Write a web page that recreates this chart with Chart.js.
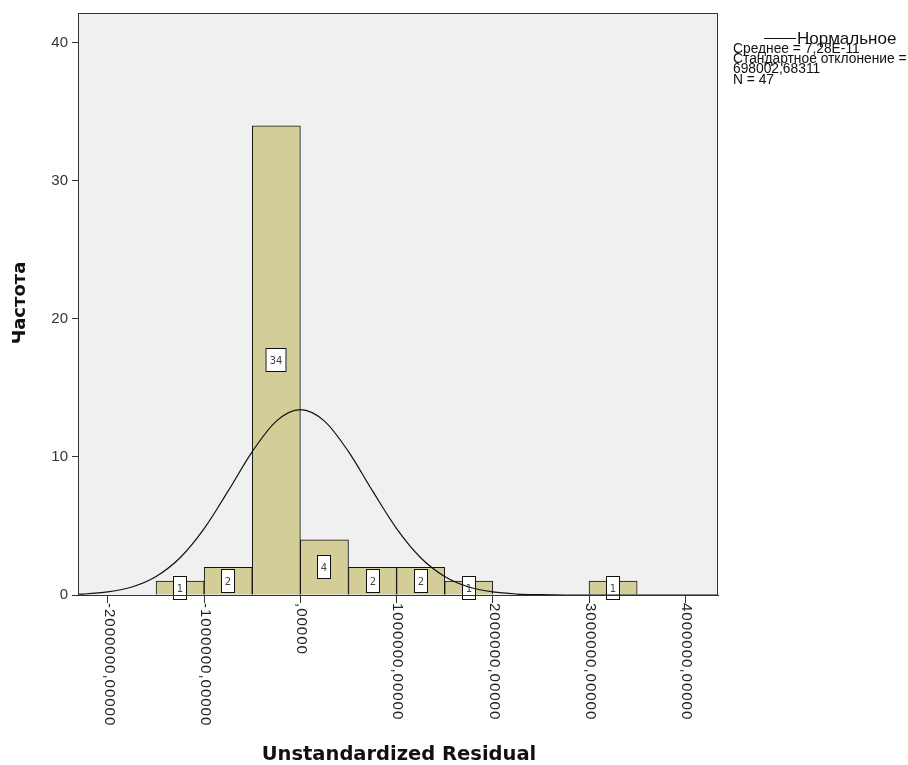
<!DOCTYPE html>
<html>
<head>
<meta charset="utf-8">
<script src="https://cdn.jsdelivr.net/npm/chart.js@4.4.1/dist/chart.umd.min.js"></script>
<style>
  body { margin: 0; background: #fff; }
  canvas { display: block; }
</style>
</head>
<body>
<canvas id="myChart" width="908" height="765"></canvas>
<script>
// DATA

var binCenters = [-1250000, -750000, -250000, 250000, 750000, 1250000, 1750000, 3250000];
var binCounts = [1, 2, 34, 4, 2, 2, 1, 1];

var curveX = [-2300000, -2250000, -2000000, -1750000, -1500000, -1250000, -1000000, -750000, -500000, -250000,
              0, 250000, 500000, 750000, 1000000, 1250000, 1500000, 1750000, 2000000, 2250000,
              2500000, 2750000, 3000000, 3500000, 4000000, 4340000];
var curveY = [0.06, 0.07, 0.22, 0.58, 1.34, 2.70, 4.81, 7.54, 10.39, 12.60,
              13.43, 12.60, 10.39, 7.54, 4.81, 2.70, 1.34, 0.58, 0.22, 0.07,
              0.02, 0, 0, 0, 0, 0];

var xTicks = [-2000000, -1000000, 0, 1000000, 2000000, 3000000, 4000000];
var xTickLabels = ['-2000000,00000', '-1000000,00000', ',00000', '1000000,00000',
                   '2000000,00000', '3000000,00000', '4000000,00000'];
var yTicks = [0, 10, 20, 30, 40];

var legendLines = ['Среднее = 7,28E-11', 'Стандартное отклонение =', '698002,68311', 'N = 47'];

var FONT = '"Liberation Sans", Arial, sans-serif';
var TITLE_FONT = '"DejaVu Sans", Verdana, sans-serif';

// PLUGINS

var plotBg = {
    id: 'plotBg',
    beforeDraw: function (chart) {
        var a = chart.chartArea, ctx = chart.ctx;
        ctx.save();
        ctx.fillStyle = '#F0F0F0';
        ctx.fillRect(a.left, a.top, a.right - a.left, a.bottom - a.top);
        ctx.restore();
    },
    afterDatasetDraw: function (chart, args) {
        if (args.index !== 0) return;
        // count boxes in the middle of each bar
        var ctx = chart.ctx, xs = chart.scales.x, ys = chart.scales.y;
        ctx.save();
        ctx.font = '10px ' + TITLE_FONT;
        ctx.textAlign = 'center';
        ctx.textBaseline = 'middle';
        binCenters.forEach(function (c, i) {
            var px = Math.round(xs.getPixelForValue(c));
            var py = Math.round(ys.getPixelForValue(binCounts[i] / 2));
            var txt = String(binCounts[i]);
            var w = Math.round(ctx.measureText(txt).width) + 8;
            var h = 24;
            ctx.fillStyle = '#fff';
            ctx.fillRect(px - w / 2, py - h / 2, w, h);
            ctx.strokeStyle = '#111';
            ctx.lineWidth = 1;
            ctx.strokeRect(px - w / 2 + 0.5, py - h / 2 + 0.5, w - 1, h - 1);
            ctx.fillStyle = '#444';
            ctx.fillText(txt, px, py + 1);
        });
        ctx.restore();
    },
    afterDraw: function (chart) {
        var a = chart.chartArea, ctx = chart.ctx, xs = chart.scales.x;
        ctx.save();
        // frame
        ctx.strokeStyle = '#333';
        ctx.lineWidth = 1;
        ctx.strokeRect(a.left + 0.5, a.top + 0.5, a.right - a.left - 1, a.bottom - a.top);

        // x tick labels, turned clockwise
        ctx.fillStyle = '#222';
        ctx.font = '15px ' + FONT;
        if ('letterSpacing' in ctx) ctx.letterSpacing = '1px';
        ctx.textAlign = 'left';
        ctx.textBaseline = 'middle';
        xTicks.forEach(function (v, i) {
            var px = xs.getPixelForValue(v);
            ctx.save();
            ctx.translate(px + 1, a.bottom + 8);
            ctx.rotate(Math.PI / 2);
            ctx.fillText(xTickLabels[i], 0, 0);
            ctx.restore();
        });
        if ('letterSpacing' in ctx) ctx.letterSpacing = '0px';

        // axis titles
        ctx.fillStyle = '#111';
        ctx.font = 'bold 19.5px ' + TITLE_FONT;
        ctx.textAlign = 'center';
        ctx.fillText('Unstandardized Residual', 399, 755);
        ctx.save();
        ctx.translate(20, 303);
        ctx.rotate(-Math.PI / 2);
        ctx.font = 'bold 18px ' + TITLE_FONT;
        ctx.fillText('Частота', 0, 0);
        ctx.restore();

        // legend
        ctx.strokeStyle = '#111';
        ctx.beginPath();
        ctx.moveTo(764, 38.5);
        ctx.lineTo(796, 38.5);
        ctx.stroke();
        ctx.font = '17px ' + FONT;
        ctx.textAlign = 'left';
        ctx.fillText('Нормальное', 797, 39);
        ctx.font = '13.8px ' + FONT;
        legendLines.forEach(function (t, i) {
            ctx.fillText(t, 733, 49 + i * 10.3);
        });
        ctx.restore();
    }
};

// CHART

var canvas = document.getElementById('myChart');
var ctx = canvas.getContext('2d');

var chart = new Chart(ctx, {
    type: 'bar',
    data: {
        datasets: [{
            label: 'Частота',
            data: binCenters.map(function (c, i) { return { x: c, y: binCounts[i] }; }),
            backgroundColor: '#D3CE97',
            borderColor: '#111',
            borderWidth: 1,
            barPercentage: 1,
            categoryPercentage: 1,
            order: 1
        },
        {
            type: 'line',
            label: 'Нормальное',
            data: curveX.map(function (x, i) { return { x: x, y: curveY[i] }; }),
            borderColor: '#111',
            borderWidth: 1.2,
            pointRadius: 0,
            cubicInterpolationMode: 'monotone',
            fill: false,
            order: 0
        }]
    },
    options: {
        responsive: false,
        animation: false,
        devicePixelRatio: 1,
        layout: { padding: { top: 13, right: 190, left: 0, bottom: 0 } },
        plugins: {
            legend: { display: false },
            tooltip: { enabled: false }
        },
        scales: {
            x: {
                type: 'linear',
                offset: false,
                min: -2311000,
                max: 4340000,
                afterBuildTicks: function (s) { s.ticks = xTicks.map(function (v) { return { value: v }; }); },
                afterFit: function (s) { s.height = 170; },
                ticks: { display: false },
                grid: { offset: false, drawOnChartArea: false, drawTicks: true, tickLength: 8, color: '#333' },
                border: { color: '#333' }
            },
            y: {
                min: 0,
                max: 42.17,
                afterBuildTicks: function (s) { s.ticks = yTicks.map(function (v) { return { value: v }; }); },
                afterFit: function (s) { s.width = 78; },
                ticks: { color: '#333', font: { size: 15, family: FONT }, padding: 4 },
                grid: { drawOnChartArea: false, drawTicks: true, tickLength: 6, color: '#333' },
                border: { color: '#333' }
            }
        }
    },
    plugins: [plotBg]
});
</script>
</body>
</html>
